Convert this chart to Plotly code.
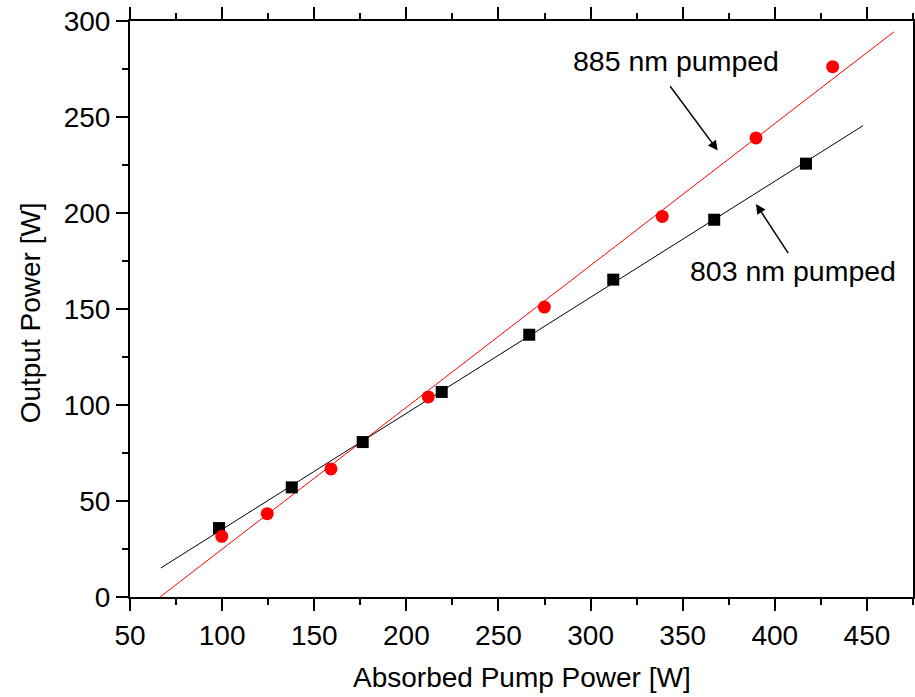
import plotly.graph_objects as go

# Measured data (Absorbed pump power [W], Output power [W])
x_803 = [98.3, 137.8, 176.3, 219.2, 266.7, 312.3, 367.1, 416.9]
y_803 = [35.9, 57.1, 80.7, 106.8, 136.6, 165.3, 196.5, 225.7]
x_885 = [99.8, 124.5, 159.1, 211.9, 274.9, 338.9, 389.8, 431.4]
y_885 = [31.6, 43.4, 66.7, 104.2, 151.0, 198.2, 239.1, 276.2]

# Linear fit lines (end points)
fit_803_x = [66.7, 447.9]
fit_803_y = [15.1, 245.5]
fit_885_x = [66.3, 464.7]
fit_885_y = [0.0, 294.4]

FONT = "Liberation Sans, Arial, sans-serif"

fig = go.Figure()
fig.add_trace(go.Scatter(x=fit_803_x, y=fit_803_y, mode="lines",
                         line=dict(color="black", width=1), showlegend=False))
fig.add_trace(go.Scatter(x=fit_885_x, y=fit_885_y, mode="lines",
                         line=dict(color="#ff0000", width=1), showlegend=False))
fig.add_trace(go.Scatter(x=x_803, y=y_803, mode="markers",
                         marker=dict(symbol="square", size=12, color="black"),
                         showlegend=False))
fig.add_trace(go.Scatter(x=x_885, y=y_885, mode="markers",
                         marker=dict(symbol="circle", size=13, color="#ff0000"),
                         showlegend=False))

axis_common = dict(
    showgrid=False, zeroline=False, showline=True, linewidth=2, linecolor="black",
    mirror="allticks", ticks="outside", ticklen=12, tickwidth=2, tickcolor="black",
    tickfont=dict(family=FONT, size=28, color="black"), automargin=False,
)
fig.update_xaxes(range=[50, 475], tick0=50, dtick=50,
                 minor=dict(ticks="outside", ticklen=6, tickwidth=2, tickcolor="black",
                            tick0=50, dtick=25, showgrid=False),
                 **axis_common)
fig.update_yaxes(range=[0, 300], tick0=0, dtick=50,
                 minor=dict(ticks="outside", ticklen=6, tickwidth=2, tickcolor="black",
                            tick0=0, dtick=25, showgrid=False),
                 **axis_common)

annotations = [
    dict(text="Absorbed Pump Power [W]", xref="paper", yref="paper", x=0.5, y=-0.14,
         xanchor="center", yanchor="middle", showarrow=False,
         font=dict(family=FONT, size=28, color="black")),
    dict(text="Output Power [W]", xref="paper", yref="paper", x=-0.1277, y=0.4925,
         xanchor="center", yanchor="middle", showarrow=False, textangle=-90,
         font=dict(family=FONT, size=28, color="black")),
    dict(text="885 nm pumped", x=346.5, y=279.0, xref="x", yref="y",
         xanchor="center", yanchor="middle", showarrow=False,
         font=dict(family=FONT, size=28.5, color="black")),
    dict(text="803 nm pumped", x=409.8, y=169.6, xref="x", yref="y",
         xanchor="center", yanchor="middle", showarrow=False,
         font=dict(family=FONT, size=28.5, color="black")),
    dict(text="", x=369.0, y=232.6, ax=342.6, ay=266.8, xref="x", yref="y",
         axref="x", ayref="y", showarrow=True, arrowhead=2, arrowsize=1.3,
         arrowwidth=1.5, arrowcolor="black", standoff=0, startstandoff=0),
    dict(text="", x=389.8, y=204.7, ax=407.8, ay=178.3, xref="x", yref="y",
         axref="x", ayref="y", showarrow=True, arrowhead=2, arrowsize=1.3,
         arrowwidth=1.5, arrowcolor="black", standoff=0, startstandoff=0),
]

fig.update_layout(
    width=915, height=697,
    margin=dict(l=130, r=2, t=21, b=100),
    paper_bgcolor="white", plot_bgcolor="white",
    annotations=annotations,
    font=dict(family=FONT, color="black"),
)

fig.write_html("out.html")
